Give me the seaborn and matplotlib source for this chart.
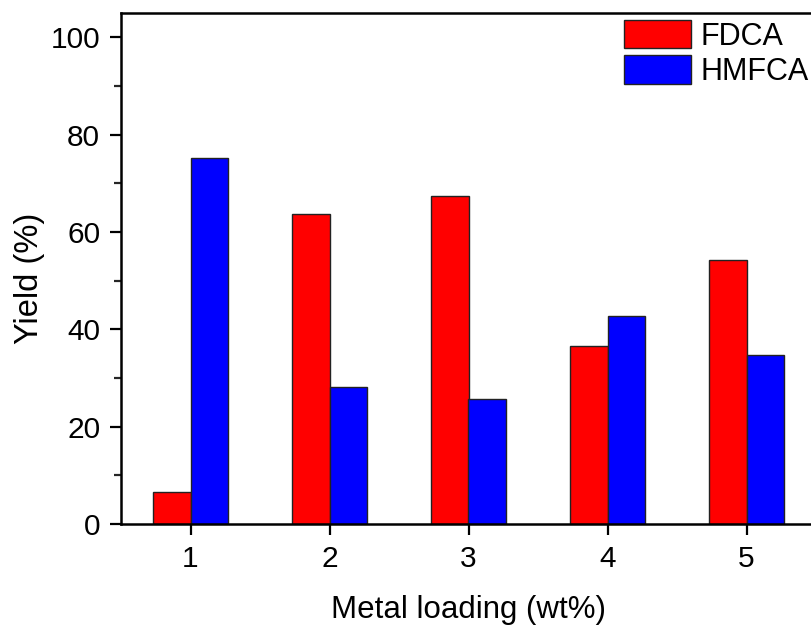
import matplotlib
matplotlib.use("Agg")
import matplotlib.pyplot as plt
from matplotlib.ticker import MultipleLocator
from matplotlib.patches import Patch
import seaborn as sns
import pandas as pd

loadings = ["1", "2", "3", "4", "5"]
fdca = [6.6, 63.7, 67.3, 36.6, 54.2]
hmfca = [75.2, 28.1, 25.6, 42.7, 34.7]
series = ["FDCA", "HMFCA"]
colors = ["#FF0000", "#0000FF"]

df = pd.DataFrame({
    "loading": loadings * 2,
    "yield": fdca + hmfca,
    "product": [series[0]] * len(loadings) + [series[1]] * len(loadings),
})

sns.set_style("ticks")
plt.rcParams["font.family"] = ["Liberation Sans", "DejaVu Sans"]
plt.rcParams["text.color"] = "black"
plt.rcParams["axes.labelcolor"] = "black"

fig = plt.figure(figsize=(8.12, 6.25), dpi=100)
ax = fig.add_axes([121 / 812, 101 / 625, 695 / 812, 511 / 625])

sns.barplot(data=df, x="loading", y="yield", hue="product", order=loadings,
            hue_order=series, palette=colors, width=0.54, saturation=1,
            edgecolor="#222222", linewidth=1.0, ax=ax, legend=False)

ax.set_xlim(-0.5, 4.5)
ax.set_ylim(0, 105)
ax.yaxis.set_major_locator(MultipleLocator(20))
ax.yaxis.set_minor_locator(MultipleLocator(10))
ax.tick_params(axis="both", which="major", direction="out", length=8, width=1.6,
               labelsize=21.5, colors="black", labelcolor="black", pad=7)
ax.tick_params(axis="y", which="minor", direction="out", length=5, width=1.6)
for s in ax.spines.values():
    s.set_linewidth(1.8)
    s.set_color("black")

ax.set_xlabel("Metal loading (wt%)", fontsize=22.5, labelpad=16, color="black")
ax.set_ylabel("Yield (%)", fontsize=23.5, color="black", va="center")
ax.yaxis.set_label_coords(-0.131, 0.481)

handles = [Patch(facecolor=c, edgecolor="#222222", linewidth=1.0) for c in colors]
fig.legend(handles, series, loc="upper left", bbox_to_anchor=(624 / 812, 1 - 20 / 625),
           frameon=False, fontsize=22, handlelength=2.2, handleheight=1.05,
           handletextpad=0.3, labelspacing=0.12, borderaxespad=0, borderpad=0,
           labelcolor="black")

fig.savefig("out.png", dpi=100)
